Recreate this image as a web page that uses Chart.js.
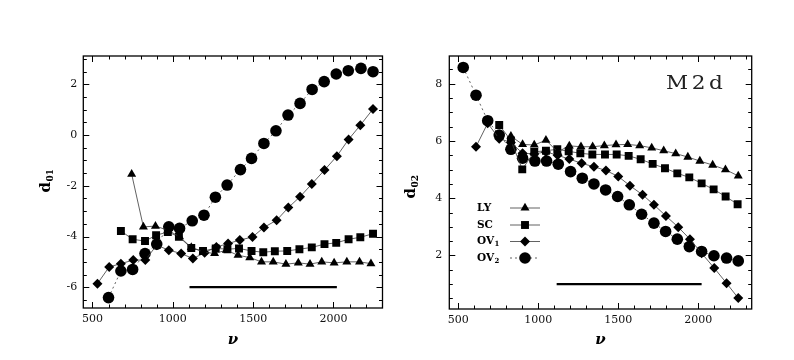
<!DOCTYPE html>
<html><head><meta charset="utf-8">
<script src="https://cdn.jsdelivr.net/npm/chart.js@4"></script>
<style>
html,body{margin:0;padding:0;background:#fff;}
#wrap{position:relative;width:794px;height:360px;overflow:hidden;background:#fff;}
canvas{position:absolute;top:0;}
</style></head><body>
<div id="wrap">
<canvas id="c1" width="397" height="360" style="left:0;width:397px;height:360px"></canvas>
<canvas id="c2" width="397" height="360" style="left:397px;width:397px;height:360px"></canvas>
</div>
<script>
// ---------- data: left panel (d01) ----------
const nuLY1  = [744, 817, 892, 969, 1042, 1115, 1188, 1260, 1333, 1406, 1479, 1552, 1625, 1704, 1781, 1854, 1927, 2004, 2083, 2162, 2233];
const d01LY  = [-1.54, -3.62, -3.59, -3.75, -4.01, -4.43, -4.61, -4.67, -4.54, -4.74, -4.83, -5.00, -5.00, -5.09, -5.04, -5.09, -5.00, -5.04, -5.00, -5.00, -5.07];
const nuSC1  = [677, 750, 827, 896, 969, 1038, 1115, 1188, 1267, 1340, 1412, 1490, 1563, 1635, 1712, 1788, 1865, 1944, 2017, 2094, 2167, 2246];
const d01SC  = [-3.78, -4.11, -4.18, -3.95, -3.82, -4.01, -4.45, -4.57, -4.47, -4.50, -4.47, -4.57, -4.62, -4.58, -4.57, -4.50, -4.43, -4.30, -4.25, -4.11, -4.03, -3.89];
const nuOV1a = [531, 604, 677, 754, 829, 900, 975, 1052, 1125, 1198, 1271, 1344, 1417, 1496, 1567, 1646, 1719, 1792, 1865, 1944, 2021, 2094, 2167, 2246];
const d01OV1 = [-5.86, -5.20, -5.07, -4.93, -4.93, -4.34, -4.54, -4.67, -4.87, -4.64, -4.41, -4.28, -4.14, -4.02, -3.64, -3.36, -2.86, -2.43, -1.93, -1.38, -0.83, -0.17, 0.39, 1.03];
const nuOV2a = [600, 677, 750, 827, 900, 975, 1042, 1121, 1194, 1265, 1338, 1421, 1490, 1567, 1642, 1717, 1792, 1867, 1942, 2017, 2092, 2171, 2246];
const d01OV2 = [-6.41, -5.36, -5.30, -4.67, -4.30, -3.62, -3.68, -3.38, -3.16, -2.45, -1.97, -1.36, -0.92, -0.33, 0.17, 0.79, 1.25, 1.80, 2.11, 2.41, 2.54, 2.63, 2.50];
const barNu1 = [1104, 2021];
const barY1  = -6;

// ---------- data: right panel (d02) ----------
const nuLY2  = [829, 902, 975, 1048, 1121, 1194, 1267, 1340, 1413, 1486, 1559, 1634, 1709, 1784, 1859, 1935, 2010, 2090, 2170, 2250];
const d02LY  = [6.17, 5.88, 5.86, 6.03, 5.62, 5.83, 5.80, 5.80, 5.84, 5.87, 5.88, 5.84, 5.76, 5.66, 5.56, 5.44, 5.30, 5.16, 5.00, 4.78];
const nuSC2  = [756, 829, 900, 975, 1048, 1119, 1190, 1263, 1338, 1417, 1490, 1565, 1640, 1715, 1792, 1869, 1944, 2021, 2096, 2171, 2246];
const d02SC  = [6.56, 6.02, 5.01, 5.62, 5.66, 5.71, 5.64, 5.57, 5.53, 5.53, 5.53, 5.48, 5.36, 5.20, 5.05, 4.87, 4.73, 4.52, 4.31, 4.06, 3.79];
const nuOV1b = [611, 684, 756, 829, 902, 975, 1048, 1121, 1194, 1271, 1348, 1423, 1500, 1573, 1652, 1723, 1798, 1875, 1948, 2021, 2100, 2177, 2250];
const d02OV1 = [5.80, 6.62, 6.08, 5.95, 5.57, 5.55, 5.62, 5.50, 5.37, 5.22, 5.10, 4.97, 4.76, 4.44, 4.12, 3.77, 3.38, 2.99, 2.57, 2.08, 1.56, 1.03, 0.51];
const nuOV2b = [531, 611, 684, 756, 829, 902, 979, 1052, 1125, 1202, 1275, 1348, 1421, 1496, 1569, 1646, 1723, 1796, 1869, 1944, 2021, 2098, 2177, 2250];
const d02OV2 = [8.57, 7.60, 6.71, 6.21, 5.71, 5.40, 5.30, 5.30, 5.19, 4.93, 4.70, 4.50, 4.29, 4.06, 3.77, 3.44, 3.13, 2.84, 2.57, 2.31, 2.14, 1.99, 1.91, 1.81];
const barNu2 = [1115, 2021];
const barY2  = 1;

// ---------- ticks / labels ----------
const xTicks  = [500, 1000, 1500, 2000];
const y1Ticks = [-6, -4, -2, 0, 2];
const y2Ticks = [2, 4, 6, 8];
const legendNames = ['LY', 'SC', 'OV', 'OV'];
const legendSubs  = ['', '', '1', '2'];
const panelTag = 'M2d';
const xTitle = 'ν';

// ---------- helpers ----------
const zip = (xs, ys) => xs.map((x, i) => ({x, y: ys[i]}));
const LINE = '#3a3a3a';
const styles = {
  LY:  {pointStyle: 'triangle', pointRadius: 5.2, dash: []},
  SC:  {pointStyle: 'rect',     pointRadius: 5.6, dash: []},
  OV1: {pointStyle: 'rectRot',  pointRadius: 5.0, dash: []},
  OV2: {pointStyle: 'circle',   pointRadius: 5.8, dash: [2, 3]}
};
function ds(key, xs, ys) {
  const s = styles[key];
  return {
    label: key, data: zip(xs, ys), showLine: true,
    borderColor: LINE, borderWidth: 0.8, borderDash: s.dash,
    pointStyle: s.pointStyle, pointRadius: s.pointRadius,
    pointBackgroundColor: '#000', pointBorderColor: '#000', pointBorderWidth: 0
  };
}
function barDs(xs, y) {
  return {label: 'bar', data: xs.map(x => ({x, y})), showLine: true,
    borderColor: '#000', borderWidth: 2.2, pointRadius: 0};
}

const frameTicks = {
  id: 'frameTicks',
  afterDatasetsDraw(chart, args, o) {
    const {ctx, chartArea: a, scales: {x, y}} = chart;
    ctx.save();
    ctx.strokeStyle = '#000';
    ctx.lineWidth = 1;
    const M = 6, m = 3.5;
    for (let v = o.xMin; v <= o.xMax; v += 100) {
      const p = Math.round(x.getPixelForValue(v)) + 0.5;
      if (p <= a.left + 1 || p >= a.right - 1) continue;
      const L = (v % 500 === 0) ? M : m;
      ctx.beginPath();
      ctx.moveTo(p, a.bottom); ctx.lineTo(p, a.bottom - L);
      ctx.moveTo(p, a.top); ctx.lineTo(p, a.top + L);
      ctx.stroke();
    }
    for (let v = o.yMin; v <= o.yMax + 1e-9; v += 0.5) {
      const p = Math.round(y.getPixelForValue(v)) + 0.5;
      if (p <= a.top + 1 || p >= a.bottom - 1) continue;
      const L = (Math.abs(v % 2) < 1e-9) ? M : m;
      ctx.beginPath();
      ctx.moveTo(a.left, p); ctx.lineTo(a.left + L, p);
      ctx.moveTo(a.right, p); ctx.lineTo(a.right - L, p);
      ctx.stroke();
    }
    ctx.lineWidth = 1.3;
    ctx.strokeRect(a.left, a.top, a.right - a.left, a.bottom - a.top);
    ctx.restore();
  }
};

function drawYTitle(ctx, sub, bx, cy) {
  ctx.save();
  ctx.fillStyle = '#000';
  ctx.translate(bx, cy);
  ctx.rotate(-Math.PI / 2);
  ctx.font = 'bold 15px "DejaVu Serif"';
  const wd = ctx.measureText('d').width;
  ctx.font = 'bold 9px "DejaVu Serif"';
  const ws = ctx.measureText(sub).width;
  const s = -(wd + ws) / 2;
  ctx.textBaseline = 'alphabetic';
  ctx.font = 'bold 15px "DejaVu Serif"';
  ctx.fillText('d', s, 0);
  ctx.font = 'bold 9px "DejaVu Serif"';
  ctx.fillText(sub, s + wd + 0.5, 3);
  ctx.restore();
}

const annot = {
  id: 'annot',
  afterDraw(chart, args, o) {
    const ctx = chart.ctx;
    drawYTitle(ctx, o.sub, o.titleX, o.titleY);
    if (!o.legend) return;
    ctx.save();
    // panel tag
    ctx.fillStyle = '#222';
    ctx.font = '18px "DejaVu Serif"';
    ctx.textBaseline = 'alphabetic';
    ctx.letterSpacing = '3px';
    ctx.translate(269, 89);
    ctx.scale(1.2, 1);
    ctx.fillText(panelTag, 0, 0);
    ctx.restore();
    // legend
    const rows = [208, 225, 241.5, 258];
    const keys = ['LY', 'SC', 'OV1', 'OV2'];
    ctx.save();
    rows.forEach((ry, i) => {
      const s = styles[keys[i]];
      ctx.fillStyle = '#000';
      ctx.font = 'bold 10.5px "DejaVu Serif"';
      ctx.textBaseline = 'middle';
      ctx.fillText(legendNames[i], 80, ry);
      if (legendSubs[i]) {
        const w = ctx.measureText(legendNames[i]).width;
        ctx.font = 'bold 7px "DejaVu Serif"';
        ctx.fillText(legendSubs[i], 80 + w + 0.5, ry + 3);
      }
      ctx.strokeStyle = LINE;
      ctx.lineWidth = 0.8;
      ctx.setLineDash(s.dash);
      ctx.beginPath();
      ctx.moveTo(113, ry); ctx.lineTo(143, ry);
      ctx.stroke();
      ctx.setLineDash([]);
      ctx.fillStyle = '#000';
      ctx.strokeStyle = '#000';
      ctx.lineWidth = 0;
      Chart.helpers.drawPoint(ctx, {pointStyle: s.pointStyle, radius: s.pointRadius, rotation: 0, borderWidth: 0}, 128, ry);
    });
    ctx.restore();
  }
};

function makeChart(id, cfg) {
  return new Chart(document.getElementById(id), {
    type: 'scatter',
    data: {datasets: cfg.datasets},
    options: {
      responsive: false, animation: false, devicePixelRatio: 1,
      layout: {padding: {top: 56, left: 0, right: cfg.padRight, bottom: 0}},
      plugins: {legend: {display: false}, tooltip: {enabled: false},
        frameTicks: {xMin: 500, xMax: 2300, yMin: cfg.yMinorStart, yMax: cfg.yMinorEnd},
        annot: cfg.annot},
      scales: {
        x: {
          type: 'linear', min: cfg.xMin, max: cfg.xMax,
          grid: {display: false, drawTicks: false}, border: {display: false},
          afterBuildTicks: s => { s.ticks = xTicks.map(v => ({value: v})); },
          afterFit: s => { s.height = cfg.xHeight; },
          ticks: {color: '#111', padding: 5, maxRotation: 0, autoSkip: false,
            callback: v => String(v),
            font: {family: 'DejaVu Serif', size: 11}},
          title: {display: true, text: xTitle, color: '#000',
            font: {family: 'DejaVu Serif', style: 'italic', weight: 'bold', size: 15},
            padding: {top: 0, bottom: 11}}
        },
        y: {
          type: 'linear', min: cfg.yMin, max: cfg.yMax,
          grid: {display: false, drawTicks: false}, border: {display: false},
          afterBuildTicks: s => { s.ticks = cfg.yTicks.map(v => ({value: v})); },
          afterFit: s => { s.width = cfg.yWidth; },
          ticks: {color: '#111', padding: cfg.yPad, autoSkip: false,
            callback: v => String(v),
            font: {family: 'DejaVu Serif', size: 11}}
        }
      }
    },
    plugins: [frameTicks, annot]
  });
}

makeChart('c1', {
  datasets: [
    barDs(barNu1, barY1),
    ds('LY', nuLY1, d01LY), ds('SC', nuSC1, d01SC),
    ds('OV1', nuOV1a, d01OV1), ds('OV2', nuOV2a, d01OV2)
  ],
  xMin: 443, xMax: 2305, yMin: -6.82, yMax: 3.12,
  yTicks: y1Ticks, yMinorStart: -6.5, yMinorEnd: 3.0,
  padRight: 14.5, yWidth: 83.3, xHeight: 52, yPad: 6,
  annot: {sub: '01', titleX: 50, titleY: 181, legend: false}
});
makeChart('c2', {
  datasets: [
    barDs(barNu2, barY2),
    ds('LY', nuLY2, d02LY), ds('SC', nuSC2, d02SC),
    ds('OV1', nuOV1b, d02OV1), ds('OV2', nuOV2b, d02OV2)
  ],
  xMin: 444, xMax: 2334, yMin: 0.13, yMax: 8.97,
  yTicks: y2Ticks, yMinorStart: 0.5, yMinorEnd: 8.5,
  padRight: 42.3, yWidth: 52.3, xHeight: 51, yPad: 7,
  annot: {sub: '02', titleX: 18, titleY: 187, legend: true}
});
</script>
</body></html>
